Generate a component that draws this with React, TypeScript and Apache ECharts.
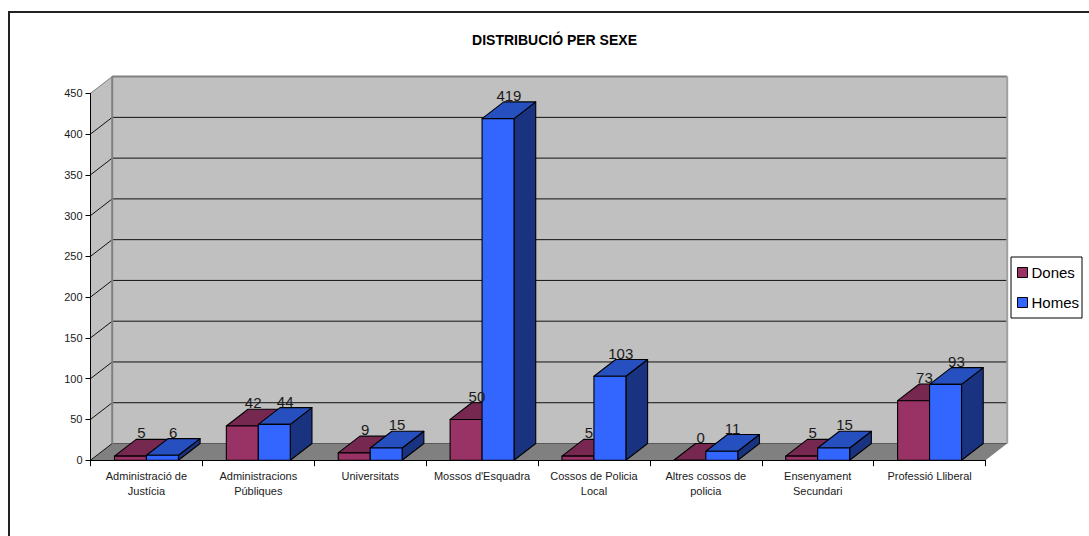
import React, { useEffect, useRef } from "react";
import * as echarts from "echarts";

const categories = [
  "Administració de\nJustícia",
  "Administracions\nPúbliques",
  "Universitats",
  "Mossos d'Esquadra",
  "Cossos de Policia\nLocal",
  "Altres cossos de\npolicia",
  "Ensenyament\nSecundari",
  "Professió Lliberal",
];
const dones = [5, 42, 9, 50, 5, 0, 5, 73];
const homes = [6, 44, 15, 419, 103, 11, 15, 93];
const yTicks = [0, 50, 100, 150, 200, 250, 300, 350, 400, 450];

const FONT = '"Liberation Sans", Arial, sans-serif';
const DX = 21.7;
const DY = 16.7;

function poly(points: number[][], fill: string, stroke?: string, lineWidth = 1.1, z2 = 0) {
  return {
    type: "polygon",
    z2,
    shape: { points },
    style: { fill, stroke: stroke || "none", lineWidth, lineJoin: "round" },
    silent: true,
  };
}

function line(x1: number, y1: number, x2: number, y2: number, stroke: string, lineWidth: number, z2 = 0) {
  return {
    type: "line",
    z2,
    shape: { x1, y1, x2, y2 },
    style: { stroke, lineWidth },
    silent: true,
  };
}

const wallRender = (params: any) => {
  const c = params.coordSys;
  const l = c.x, r = c.x + c.width, t = c.y, b = c.y + c.height;
  const wall = "#c0c0c0", floor = "#808080";
  return {
    type: "group",
    children: [
      poly([[l + DX, t - DY], [r + DX, t - DY], [r + DX, b - DY], [l + DX, b - DY]], wall),
      poly([[l, t], [l + DX, t - DY], [l + DX, b - DY], [l, b]], wall),
      poly([[l, b], [l + DX, b - DY], [r + DX, b - DY], [r, b]], floor),
    ],
  };
};

const gridRender = (params: any, api: any) => {
  const c = params.coordSys;
  const l = c.x, r = c.x + c.width;
  const v = api.value(0);
  const y = api.coord([0, v])[1];
  const edge = "#808080";
  const isTop = v === yTicks[yTicks.length - 1];
  const isBottom = v === 0;
  const stroke = isTop || isBottom ? edge : "#111111";
  const children: any[] = [
    line(l, y, l + DX, y - DY, isBottom ? "#111111" : stroke, 1, 1),
    line(l + DX, y - DY, r + DX, y - DY, isBottom ? "#5a5a5a" : stroke, isTop ? 2 : 1, 1),
  ];
  if (isTop) {
    const b = c.y + c.height;
    children.push(line(l + DX, y - DY, l + DX, b - DY, edge, 2, 1));
    children.push(line(r + DX, y - DY, r + DX, b - DY, "#a0a0a0", 2, 1));
  }
  return { type: "group", children };
};

const barRender = (offset: number, front: string, top: string, side: string) => (params: any, api: any) => {
  const idx = api.value(0);
  const val = api.value(1);
  const [cx, yTop] = api.coord([idx, val]);
  const yBase = api.coord([idx, 0])[1];
  const w = api.size([1, 0])[0] / 3.5;
  const x0 = cx + offset * w;
  const x1 = x0 + w;
  const s = "#000000";
  const children: any[] = [
    poly([[x1, yTop], [x1 + DX, yTop - DY], [x1 + DX, yBase - DY], [x1, yBase]], side, s),
    poly([[x0, yTop], [x0 + DX, yTop - DY], [x1 + DX, yTop - DY], [x1, yTop]], top, s),
    poly([[x0, yTop], [x1, yTop], [x1, yBase], [x0, yBase]], front, s),
    {
      type: "text",
      z2: 50,
      silent: true,
      style: {
        x: (x0 + x1) / 2 + DX / 2,
        y: yTop - DY - 6.5,
        text: String(val),
        textAlign: "center",
        textVerticalAlign: "middle",
        fill: "#1a1a1a",
        font: `15px ${FONT}`,
      },
    },
  ];
  return { type: "group", children };
};

export default function App() {
  const ref = useRef<HTMLDivElement>(null);

  useEffect(() => {
    document.body.style.margin = "0";
    document.body.style.overflow = "hidden";
    const chart = echarts.init(ref.current!, undefined, { renderer: "svg" });
    chart.setOption({
      animation: false,
      backgroundColor: "#ffffff",
      title: {
        text: "DISTRIBUCIÓ PER SEXE",
        left: 549.5,
        top: 28,
        textAlign: "center",
        textStyle: { fontFamily: FONT, fontSize: 14, fontWeight: "bold", color: "#000000" },
      },
      legend: {
        orient: "vertical",
        left: 1011,
        top: 257,
        padding: [8, 3, 8, 6],
        backgroundColor: "#ffffff",
        borderColor: "#000000",
        borderWidth: 1,
        itemWidth: 10,
        itemHeight: 10,
        itemGap: 15,
        selectedMode: false,
        textStyle: { fontFamily: FONT, fontSize: 15, color: "#000000", padding: [0, 0, 0, -1] },
        data: [
          { name: "Dones", icon: "rect", itemStyle: { color: "#993366", borderColor: "#000000", borderWidth: 1 } },
          { name: "Homes", icon: "rect", itemStyle: { color: "#3366ff", borderColor: "#000000", borderWidth: 1 } },
        ],
      },
      grid: { left: 90.5, top: 93.3, width: 895, height: 366.9, containLabel: false },
      xAxis: {
        type: "category",
        data: categories,
        z: 5,
        axisLine: { show: true, lineStyle: { color: "#000000", width: 1 } },
        axisTick: { show: true, length: 6, lineStyle: { color: "#000000", width: 1 } },
        axisLabel: {
          interval: 0,
          margin: 8,
          fontFamily: FONT,
          fontSize: 11,
          lineHeight: 15,
          color: "#1a1a1a",
          hideOverlap: false,
        },
      },
      yAxis: {
        type: "value",
        min: 0,
        max: 450,
        interval: 50,
        z: 5,
        splitLine: { show: false },
        axisLine: { show: true, lineStyle: { color: "#000000", width: 1 } },
        axisTick: { show: true, length: 5, lineStyle: { color: "#000000", width: 1 } },
        axisLabel: { margin: 8, fontFamily: FONT, fontSize: 11, color: "#1a1a1a" },
      },
      graphic: [
        {
          type: "rect",
          silent: true,
          z: 0,
          shape: { x: 9, y: 12, width: 1200, height: 700 },
          style: { fill: "none", stroke: "#222222", lineWidth: 2 },
        },
      ],
      series: [
        {
          type: "custom",
          name: "walls",
          z: 1,
          silent: true,
          clip: false,
          renderItem: wallRender,
          data: [[0]],
          encode: { x: -1, y: -1 },
        },
        {
          type: "custom",
          name: "grid",
          z: 2,
          silent: true,
          clip: false,
          renderItem: gridRender,
          data: yTicks.map((v) => [v]),
          encode: { y: 0, x: -1 },
        },
        {
          type: "custom",
          name: "Dones",
          z: 3,
          silent: true,
          clip: false,
          renderItem: barRender(-1, "#993366", "#772850", "#4d1a33"),
          data: dones.map((v, i) => [i, v]),
          encode: { x: 0, y: 1 },
        },
        {
          type: "custom",
          name: "Homes",
          z: 3,
          silent: true,
          clip: false,
          renderItem: barRender(0, "#3366ff", "#2650c0", "#193380"),
          data: homes.map((v, i) => [i, v]),
          encode: { x: 0, y: 1 },
        },
      ],
    });
    return () => chart.dispose();
  }, []);

  return <div ref={ref} style={{ position: "absolute", left: 0, top: 0, width: 1089, height: 536 }} />;
}
